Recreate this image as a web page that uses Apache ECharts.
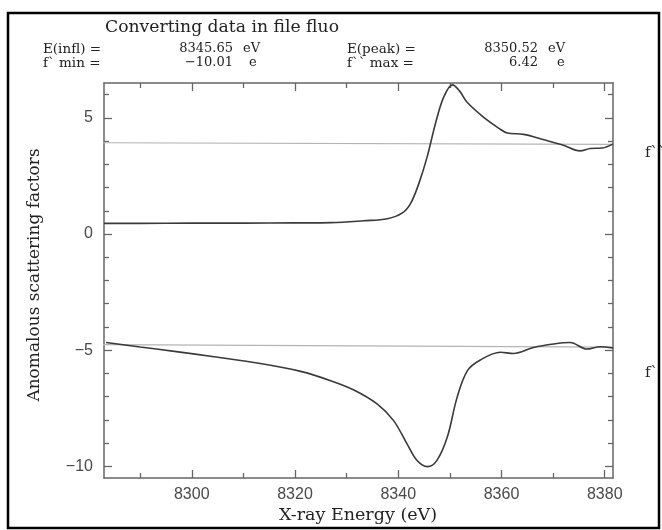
<!DOCTYPE html>
<html>
<head>
<meta charset="utf-8">
<script src="https://cdn.jsdelivr.net/npm/echarts@6/dist/echarts.min.js"></script>
<style>html,body{margin:0;padding:0;background:#fff}#c{width:662px;height:530px}</style>
</head>
<body>
<div id="c"></div>
<script>
// ---- data ----
const fppEnergy = [8283, 8290, 8300, 8310, 8320, 8327, 8333.3, 8337.9, 8340.8, 8342.4, 8344.0, 8345.6, 8347.2, 8348.8, 8350.5, 8351.9, 8353.3, 8356.5, 8359.5, 8361.1, 8364.3, 8368.2, 8372.0, 8375.2, 8377.2, 8379.5, 8381.6];
const fppValue  = [0.46, 0.46, 0.47, 0.47, 0.48, 0.49, 0.57, 0.66, 0.91, 1.32, 2.18, 3.32, 4.75, 5.89, 6.42, 6.15, 5.68, 5.03, 4.55, 4.35, 4.29, 4.06, 3.82, 3.58, 3.68, 3.70, 3.88];
const fpEnergy  = [8283.4, 8290, 8297, 8304.3, 8313.3, 8321.1, 8326.9, 8331.4, 8335.9, 8339.1, 8341.7, 8343.6, 8345.65, 8347.5, 8349.5, 8351.4, 8353.4, 8355.9, 8359.8, 8362.3, 8366.2, 8370.1, 8373.3, 8376.5, 8379.1, 8381.6];
const fpValue   = [-4.67, -4.86, -5.06, -5.28, -5.57, -5.91, -6.31, -6.71, -7.31, -8.03, -9.03, -9.74, -10.01, -9.74, -8.74, -7.03, -5.88, -5.42, -5.09, -5.14, -4.88, -4.73, -4.67, -4.95, -4.85, -4.90];
const fppBaseEnergy = [8280.7, 8381.6];
const fppBaseValue  = [3.93, 3.86];
const fpBaseEnergy  = [8281, 8381.6];
const fpBaseValue   = [-4.76, -4.87];

const xMajorTicks = [8300, 8320, 8340, 8360, 8380];
const xMinorTicks = [8290, 8310, 8330, 8350, 8370];
const yMajorTicks = [-10, -5, 0, 5];
const yMinorTicks = [-9, -8, -7, -6, -4, -3, -2, -1, 1, 2, 3, 4, 6];

const X_MIN = 8283, X_MAX = 8381.6, Y_MIN = -10.5, Y_MAX = 6.5;

const headerTitle = 'Converting data in file fluo';
const xName = 'X-ray Energy (eV)';
const yName = 'Anomalous scattering factors';

// ---- build ----
const zip = (a, b) => a.map((v, i) => [v, b[i]]);
const AX = '#666';
const serif = 'DejaVu Serif';

function mkAxis(kind, position, ticks, len, showLine, showLabel) {
  const isX = kind === 'x';
  return {
    type: 'value',
    position: position,
    min: isX ? X_MIN : Y_MIN,
    max: isX ? X_MAX : Y_MAX,
    axisLine: { show: showLine, onZero: false, lineStyle: { color: AX, width: 1.5 } },
    axisTick: { show: true, inside: true, length: len, customValues: ticks, lineStyle: { color: AX, width: 1.3 } },
    axisLabel: {
      show: showLabel,
      customValues: ticks,
      color: '#4a4a4a',
      fontFamily: 'Liberation Sans',
      fontSize: 16,
      margin: isX ? 9 : 11,
      formatter: v => String(v).replace('-', '\u2212')
    },
    splitLine: { show: false },
    minorTick: { show: false }
  };
}

const xAxes = [
  mkAxis('x', 'bottom', xMajorTicks, 8, true, true),
  mkAxis('x', 'bottom', xMinorTicks, 5, false, false),
  mkAxis('x', 'top', xMajorTicks, 8, true, false),
  mkAxis('x', 'top', xMinorTicks, 5, false, false)
];
const yAxes = [
  mkAxis('y', 'left', yMajorTicks, 8, true, true),
  mkAxis('y', 'left', yMinorTicks, 5, false, false),
  mkAxis('y', 'right', yMajorTicks, 8, true, false),
  mkAxis('y', 'right', yMinorTicks, 5, false, false)
];

function lineSeries(e, v, color, width, clip) {
  return {
    type: 'line', xAxisIndex: 0, yAxisIndex: 0,
    data: zip(e, v), showSymbol: false, symbol: 'none', smooth: 0.35,
    clip: clip, silent: true, animation: false,
    lineStyle: { color: color, width: width }
  };
}

function txt(x, y, text, size, align, extra) {
  return Object.assign({
    type: 'text', x: x, y: y, silent: true,
    style: { text: text, fill: '#222', font: size + 'px "' + serif + '"', textAlign: align || 'left', textVerticalAlign: 'middle' }
  }, extra || {});
}

const chart = echarts.init(document.getElementById('c'), null, { renderer: 'canvas' });
chart.setOption({
  animation: false,
  backgroundColor: '#fff',
  grid: { left: 104, right: 49, top: 83, bottom: 52 },
  xAxis: xAxes,
  yAxis: yAxes,
  series: [
    lineSeries(fppBaseEnergy, fppBaseValue, '#b4b4b4', 1.2, false),
    lineSeries(fpBaseEnergy, fpBaseValue, '#b4b4b4', 1.2, false),
    lineSeries(fppEnergy, fppValue, '#3a3a3a', 1.6, true),
    lineSeries(fpEnergy, fpValue, '#3a3a3a', 1.6, true)
  ],
  graphic: [
    { type: 'rect', shape: { x: 8, y: 13, width: 651, height: 515 }, style: { fill: 'none', stroke: '#000', lineWidth: 2.5 }, silent: true },
    txt(105, 28, headerTitle, 17.2),
    txt(43, 49, 'E(infl) =', 13.5),
    txt(233, 49, '8345.65', 13, 'right'),
    txt(243, 49, 'eV', 13),
    txt(347, 49, 'E(peak) =', 13.5),
    txt(538, 49, '8350.52', 13, 'right'),
    txt(548, 49, 'eV', 13),
    txt(43, 63, 'f` min =', 13.5),
    txt(233, 63, '\u221210.01', 13, 'right'),
    txt(249, 63, 'e', 13),
    txt(347, 63, 'f`` max =', 13.5),
    txt(538, 63, '6.42', 13, 'right'),
    txt(557, 63, 'e', 13),
    txt(358, 515, xName, 17.5, 'center'),
    txt(35, 275, yName, 17, 'center', { rotation: Math.PI / 2 }),
    txt(645, 153, 'f``', 15),
    txt(645, 373, 'f`', 15)
  ]
});
</script>
</body>
</html>
